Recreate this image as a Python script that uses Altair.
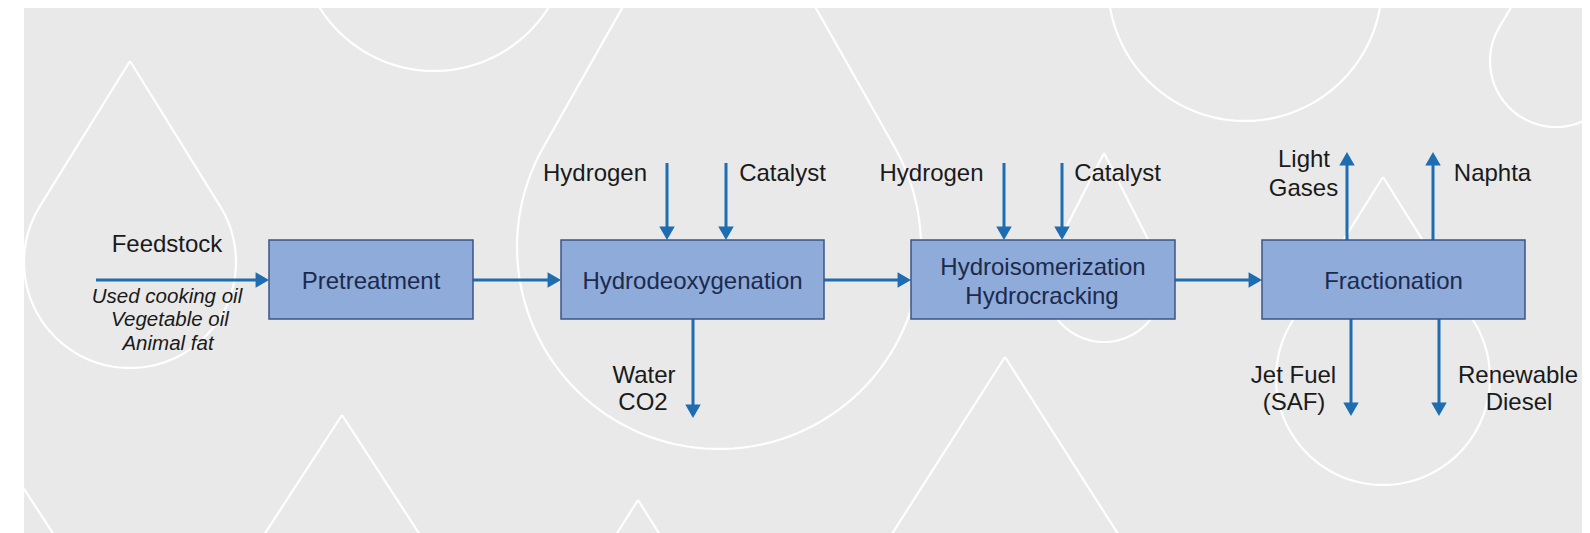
import altair as alt
import pandas as pd
import numpy as np

# ---------------- data ----------------
# process boxes (left, right, top, bottom in picture pixels)
box_names = ["Pretreatment", "Hydrodeoxygenation", "Hydroisomerization", "Fractionation"]
box_x1 = [269, 561, 911, 1262]
box_x2 = [473, 824, 1175, 1525]
box_y1 = [240, 240, 240, 240]
box_y2 = [319, 319, 319, 319]

# text inside boxes
box_text = ["Pretreatment", "Hydrodeoxygenation", "Hydroisomerization", "Hydrocracking", "Fractionation"]
box_text_x = [371, 692.5, 1043, 1042, 1393.5]
box_text_y = [282, 282, 268, 297, 282]

# outside labels
label_text = ["Feedstock", "Hydrogen", "Catalyst", "Hydrogen", "Catalyst", "Water", "CO2",
              "Light", "Gases", "Naphta", "Jet Fuel", "(SAF)", "Renewable", "Diesel"]
label_x = [167, 595, 782.5, 931.5, 1117.5, 644, 643, 1304, 1303.5, 1492.5, 1293.5, 1294, 1518, 1519]
label_y = [245, 174, 174, 174, 174, 376, 403, 160, 189, 174, 376, 403, 376, 403]

# feedstock examples (italic)
feed_text = ["Used cooking oil", "Vegetable oil", "Animal fat"]
feed_x = [167, 170, 168]
feed_y = [297, 320, 344]

# arrows: start -> tip
arrow_x1 = [96, 473, 824, 1175, 667, 726, 1004, 1062, 693, 1347, 1433, 1351, 1439]
arrow_y1 = [280, 280, 280, 280, 163, 163, 163, 163, 319, 240, 240, 319, 319]
arrow_x2 = [269, 561, 911, 1262, 667, 726, 1004, 1062, 693, 1347, 1433, 1351, 1439]
arrow_y2 = [280, 280, 280, 280, 240, 240, 240, 240, 418, 152, 152, 416, 416]
arrow_dir = ["right", "right", "right", "right", "down", "down", "down", "down", "down",
             "up", "up", "down", "down"]

# decorative water-drop outlines: circle centre, radius, tip distance above centre
drop_cx = [130, 434, 719, 1245, 1556, 1104, 1383, 342, 638, 1005, 2]
drop_cy = [262, -64, 247, -16, 61, 283, 378, 635, 650, 617, 675]
drop_r = [106, 135, 202, 137, 66, 59, 107, 120, 80, 140, 120]
drop_d = [201, 257, 410, 260, 130, 130, 201, 220, 150, 260, 220]

# ---------------- styling ----------------
W, H = 1574, 525
X0, Y0 = 8, 8
BG = "#e9e9e9"
BOX_FILL = "#8eabda"
BOX_STROKE = "#3a5585"
BOX_TEXT = "#1c2a4c"
ARROW = "#1e6db0"
FONT = "Liberation Sans"

xs = alt.Scale(domain=[X0, X0 + W], nice=False, zero=False)
ys = alt.Scale(domain=[Y0, Y0 + H], nice=False, zero=False, reverse=True)


def X(f):
    return alt.X(f, type="quantitative", scale=xs, axis=None)


def Y(f):
    return alt.Y(f, type="quantitative", scale=ys, axis=None)


# background
bg_df = pd.DataFrame({"x": [24], "x2": [1590], "y": [7], "y2": [533]})
bg = alt.Chart(bg_df).mark_rect(color=BG, clip=True).encode(
    x=X("x"), x2="x2", y=Y("y"), y2="y2")

# drops
rows = []
for i, (cx, cy, r, d) in enumerate(zip(drop_cx, drop_cy, drop_r, drop_d)):
    a = np.arccos(r / d)
    pts = [(cx, cy - d)]
    for t in np.linspace(a, 2 * np.pi - a, 90):
        pts.append((cx + r * np.sin(t), cy - r * np.cos(t)))
    pts.append((cx, cy - d))
    for k, (px, py) in enumerate(pts):
        rows.append({"drop": i, "k": k, "x": px, "y": py})
drop_df = pd.DataFrame(rows)
drops = alt.Chart(drop_df).mark_line(color="white", strokeWidth=2.2, clip=True).encode(
    x=X("x"), y=Y("y"), detail="drop:N", order="k:Q")

# white left strip (outside the grey panel)
strip_df = pd.DataFrame({"x": [X0], "x2": [24], "y": [Y0], "y2": [Y0 + H]})
strip = alt.Chart(strip_df).mark_rect(color="white", clip=True).encode(
    x=X("x"), x2="x2", y=Y("y"), y2="y2")

# arrows
adf = pd.DataFrame({"x1": arrow_x1, "y1": arrow_y1, "x2": arrow_x2, "y2": arrow_y2, "dir": arrow_dir})
# stop the shaft at the base of the arrow head
back = 9
adf["lx2"] = adf["x2"] - np.where(adf["dir"] == "right", back, 0)
adf["ly2"] = adf["y2"] - np.where(adf["dir"] == "down", back, 0) + np.where(adf["dir"] == "up", back, 0)
shafts = alt.Chart(adf).mark_rule(color=ARROW, strokeWidth=3).encode(
    x=X("x1"), y=Y("y1"), x2="lx2", y2="ly2")

HEAD = 240
hh = 0.866 * np.sqrt(HEAD) / 2
heads_right = alt.Chart(adf[adf["dir"] == "right"]).mark_point(
    shape="triangle-right", filled=True, size=HEAD, color=ARROW, opacity=1, xOffset=-hh).encode(
    x=X("x2"), y=Y("y2"))
heads_down = alt.Chart(adf[adf["dir"] == "down"]).mark_point(
    shape="triangle-down", filled=True, size=HEAD, color=ARROW, opacity=1, yOffset=-hh).encode(
    x=X("x2"), y=Y("y2"))
heads_up = alt.Chart(adf[adf["dir"] == "up"]).mark_point(
    shape="triangle-up", filled=True, size=HEAD, color=ARROW, opacity=1, yOffset=hh).encode(
    x=X("x2"), y=Y("y2"))

# boxes
bdf = pd.DataFrame({"name": box_names, "x1": box_x1, "x2": box_x2, "y1": box_y1, "y2": box_y2})
boxes = alt.Chart(bdf).mark_rect(fill=BOX_FILL, stroke=BOX_STROKE, strokeWidth=1.5).encode(
    x=X("x1"), x2="x2", y=Y("y1"), y2="y2")

btdf = pd.DataFrame({"t": box_text, "x": box_text_x, "y": box_text_y})
box_texts = alt.Chart(btdf).mark_text(font=FONT, fontSize=24, color=BOX_TEXT,
                                      align="center", baseline="middle").encode(
    x=X("x"), y=Y("y"), text="t:N")

ldf = pd.DataFrame({"t": label_text, "x": label_x, "y": label_y})
labels = alt.Chart(ldf).mark_text(font=FONT, fontSize=24, color="#1a1a1a",
                                  align="center", baseline="middle").encode(
    x=X("x"), y=Y("y"), text="t:N")

fdf = pd.DataFrame({"t": feed_text, "x": feed_x, "y": feed_y})
feeds = alt.Chart(fdf).mark_text(font=FONT, fontSize=20.5, fontStyle="italic", color="#1a1a1a",
                                 align="center", baseline="middle").encode(
    x=X("x"), y=Y("y"), text="t:N")

chart = alt.layer(
    bg, drops, strip, shafts, heads_right, heads_down, heads_up, boxes, box_texts, labels, feeds
).properties(width=W, height=H, padding=0, background="white").configure_view(stroke=None)

chart.save("out.html", embed_options={"renderer": "svg", "actions": False})
